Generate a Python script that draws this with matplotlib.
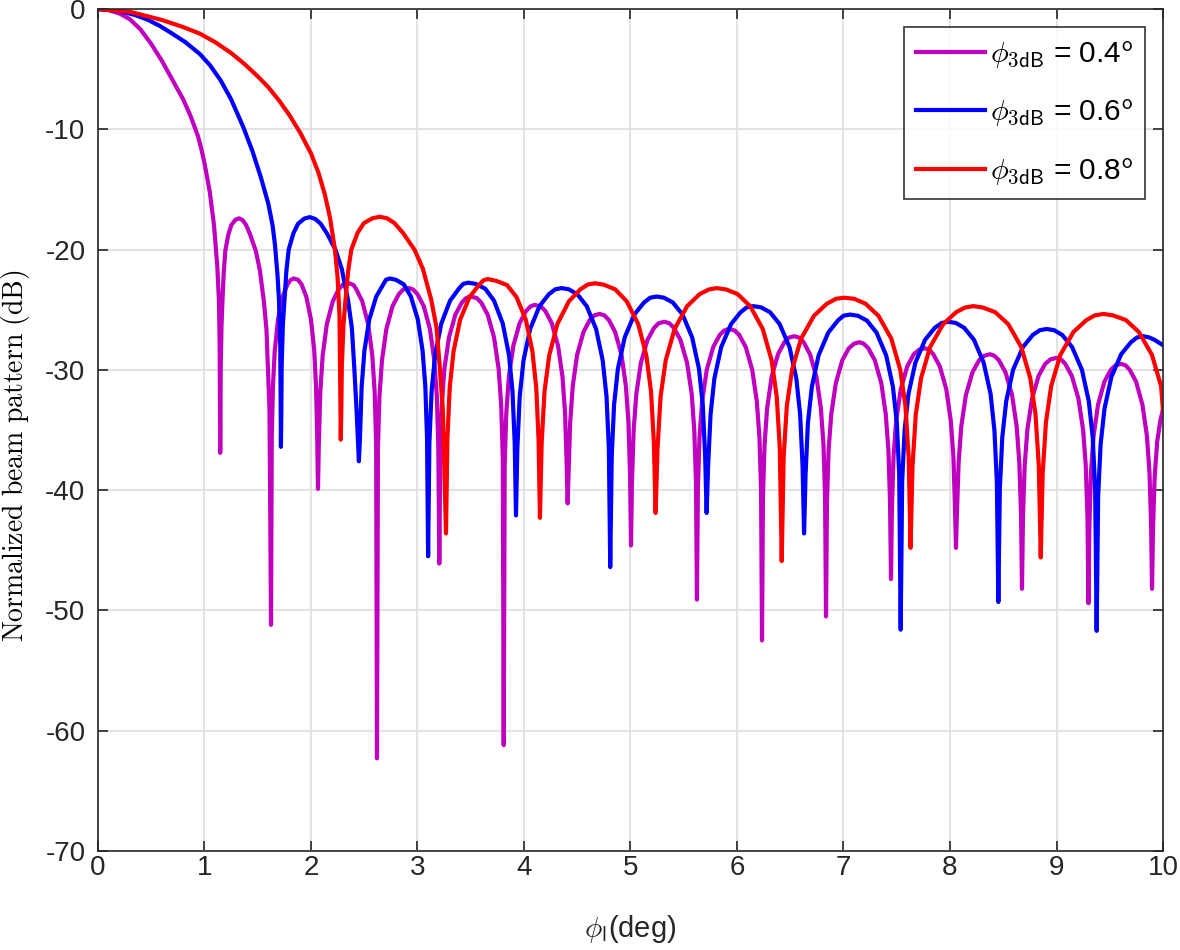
import matplotlib
matplotlib.use("Agg")
import matplotlib.pyplot as plt

plt.rcParams['font.family'] = ['Liberation Sans', 'DejaVu Sans']
plt.rcParams['mathtext.fontset'] = 'cm'
plt.rcParams['axes.unicode_minus'] = False

# beam pattern curves (phi in deg, pattern in dB)
mag_x = [0, 0.1, 0.2, 0.3, 0.4, 0.5, 0.6, 0.7, 0.8, 0.87, 0.94, 0.97, 1.0, 1.05, 1.09, 1.12, 1.136, 1.143, 1.148,
         1.150, 1.153, 1.160, 1.169, 1.181, 1.196, 1.224, 1.253, 1.291, 1.325, 1.358, 1.391, 1.429, 1.482, 1.520, 1.558, 1.582, 1.596, 1.611, 1.625,
         1.632, 1.643, 1.660, 1.691, 1.735, 1.779, 1.810, 1.840, 1.881, 1.912, 1.956, 2.000, 2.031, 2.048, 2.059, 2.066,
         2.074, 2.088, 2.110, 2.149, 2.205, 2.260, 2.299, 2.360, 2.400, 2.426, 2.482, 2.537, 2.576, 2.598, 2.612, 2.620,
         2.629, 2.643, 2.667, 2.708, 2.766, 2.825, 2.866, 2.920, 2.959, 3.000, 3.059, 3.117, 3.158, 3.182, 3.196, 3.205,
         3.214, 3.229, 3.253, 3.296, 3.356, 3.417, 3.459, 3.490, 3.556, 3.598, 3.659, 3.719, 3.762, 3.786, 3.801, 3.810,
         3.819, 3.834, 3.858, 3.900, 3.960, 4.020, 4.062, 4.100, 4.158, 4.200, 4.260, 4.320, 4.362, 4.386, 4.401, 4.410,
         4.419, 4.434, 4.458, 4.499, 4.559, 4.618, 4.660, 4.710, 4.755, 4.797, 4.856, 4.916, 4.957, 4.981, 4.996, 5.005,
         5.014, 5.030, 5.055, 5.098, 5.160, 5.222, 5.265, 5.317, 5.364, 5.407, 5.469, 5.531, 5.575, 5.599, 5.615, 5.624,
         5.633, 5.648, 5.673, 5.716, 5.777, 5.838, 5.881, 5.925, 5.978, 6.021, 6.082, 6.143, 6.186, 6.211, 6.226, 6.235,
         6.244, 6.259, 6.283, 6.325, 6.385, 6.445, 6.487, 6.538, 6.584, 6.626, 6.686, 6.746, 6.788, 6.812, 6.827, 6.836,
         6.845, 6.860, 6.885, 6.928, 6.989, 7.050, 7.100, 7.150, 7.190, 7.233, 7.294, 7.355, 7.397, 7.422, 7.437, 7.446,
         7.455, 7.470, 7.495, 7.538, 7.599, 7.660, 7.712, 7.765, 7.805, 7.843, 7.904, 7.965, 8.007, 8.032, 8.047, 8.056,
         8.065, 8.081, 8.106, 8.149, 8.211, 8.273, 8.322, 8.376, 8.416, 8.459, 8.521, 8.583, 8.626, 8.651, 8.667, 8.676,
         8.685, 8.701, 8.726, 8.770, 8.832, 8.894, 8.945, 9.000, 9.042, 9.082, 9.144, 9.206, 9.250, 9.275, 9.291, 9.300,
         9.309, 9.324, 9.348, 9.390, 9.449, 9.509, 9.555, 9.606, 9.648, 9.688, 9.748, 9.807, 9.849, 9.873, 9.888, 9.897,
         9.906, 9.921, 9.945, 9.975, 10.0]
mag_y = [0, -0.09, -0.36, -0.85, -1.7, -2.9, -4.3, -5.9, -7.5, -8.9, -10.6, -11.6, -12.8, -15.2, -18.0, -21.3, -24.2, -28.0, -36.9,
         -33.4, -29.8, -26.4, -24.3, -21.9, -20.1, -18.75, -17.95, -17.52, -17.4, -17.55, -17.95, -18.75, -20.1, -21.7, -24.3, -26.6, -29.8, -33.4, -51.2,
         -35.7, -31.4, -28.4, -25.8, -23.9, -22.9, -22.52, -22.4, -22.52, -22.9, -23.9, -25.8, -28.4, -31.4, -35.7, -39.9,
         -36.1, -31.8, -28.8, -26.2, -24.3, -23.3, -22.92, -22.8, -22.95, -23.3, -24.3, -26.2, -28.8, -31.8, -36.1, -62.3,
         -36.5, -32.2, -29.2, -26.6, -24.7, -23.7, -23.32, -23.2, -23.32, -23.7, -24.7, -26.6, -29.2, -32.2, -36.5, -46.1,
         -37.2, -32.9, -29.9, -27.3, -25.4, -24.4, -24.02, -23.9, -24.02, -24.4, -25.4, -27.3, -29.9, -32.9, -37.2, -61.2,
         -37.9, -33.6, -30.6, -28.0, -26.1, -25.1, -24.72, -24.6, -24.72, -25.1, -26.1, -28.0, -30.6, -33.6, -37.9, -41.1,
         -38.65, -34.35, -31.35, -28.75, -26.85, -25.85, -25.47, -25.35, -25.47, -25.85, -26.85, -28.75, -31.35, -34.35, -38.65, -44.6,
         -39.3, -35.0, -32.0, -29.4, -27.5, -26.5, -26.12, -26.0, -26.12, -26.5, -27.5, -29.4, -32.0, -35.0, -39.3, -49.1,
         -39.9, -35.6, -32.6, -30.0, -28.1, -27.1, -26.72, -26.6, -26.72, -27.1, -28.1, -30.0, -32.6, -35.6, -39.9, -52.5,
         -40.5, -36.2, -33.2, -30.6, -28.7, -27.7, -27.32, -27.2, -27.32, -27.7, -28.7, -30.6, -33.2, -36.2, -40.5, -50.5,
         -41.0, -36.7, -33.7, -31.1, -29.2, -28.2, -27.82, -27.7, -27.82, -28.2, -29.2, -31.1, -33.7, -36.7, -41.0, -47.4,
         -41.5, -37.2, -34.2, -31.6, -29.7, -28.7, -28.32, -28.2, -28.32, -28.7, -29.7, -31.6, -34.2, -37.2, -41.5, -44.8,
         -42.0, -37.7, -34.7, -32.1, -30.2, -29.2, -28.82, -28.7, -28.82, -29.2, -30.2, -32.1, -34.7, -37.7, -42.0, -48.2,
         -42.3, -38.0, -35.0, -32.4, -30.5, -29.5, -29.12, -29.0, -29.12, -29.5, -30.5, -32.4, -35.0, -38.0, -42.3, -49.4,
         -42.8, -38.5, -35.5, -32.9, -31.0, -30.0, -29.62, -29.5, -29.62, -30.0, -31.0, -32.9, -35.5, -38.5, -42.8, -48.2,
         -43.3, -39.0, -36.0, -34.2, -33.3]

blue_x = [0, 0.2, 0.35, 0.47, 0.58, 0.69, 0.82, 0.958, 1.05, 1.15, 1.25, 1.364, 1.45, 1.53, 1.6, 1.64, 1.662, 1.685, 1.70, 1.712, 1.718,
          1.722, 1.725, 1.736, 1.751, 1.769, 1.791, 1.835, 1.879, 1.938, 1.989, 2.040, 2.091, 2.150, 2.230, 2.289, 2.348, 2.384, 2.406, 2.428, 2.450,
          2.460, 2.476, 2.502, 2.548, 2.613, 2.678, 2.705, 2.742, 2.800, 2.873, 2.938, 3.003, 3.048, 3.074, 3.090, 3.100,
          3.112, 3.133, 3.166, 3.224, 3.306, 3.389, 3.430, 3.477, 3.545, 3.636, 3.719, 3.801, 3.859, 3.892, 3.913, 3.925,
          3.938, 3.960, 3.996, 4.058, 4.146, 4.235, 4.295, 4.354, 4.420, 4.500, 4.589, 4.677, 4.739, 4.775, 4.797, 4.810,
          4.824, 4.846, 4.882, 4.946, 5.036, 5.127, 5.185, 5.245, 5.315, 5.398, 5.489, 5.579, 5.643, 5.679, 5.701, 5.715,
          5.729, 5.752, 5.788, 5.852, 5.944, 6.035, 6.092, 6.153, 6.225, 6.310, 6.401, 6.493, 6.557, 6.593, 6.616, 6.630,
          6.644, 6.666, 6.703, 6.766, 6.857, 6.947, 7.000, 7.060, 7.135, 7.220, 7.310, 7.401, 7.464, 7.501, 7.523, 7.537,
          7.551, 7.574, 7.610, 7.675, 7.766, 7.858, 7.922, 7.984, 8.055, 8.133, 8.225, 8.316, 8.381, 8.417, 8.440, 8.454,
          8.468, 8.491, 8.528, 8.592, 8.685, 8.777, 8.843, 8.908, 8.978, 9.054, 9.146, 9.239, 9.303, 9.340, 9.363, 9.377,
          9.391, 9.414, 9.451, 9.515, 9.607, 9.699, 9.757, 9.815, 9.870, 9.920, 10.0]
blue_y = [0, -0.16, -0.5, -0.9, -1.4, -2.0, -2.75, -3.75, -4.65, -5.9, -7.5, -9.8, -11.8, -14.0, -16.2, -18.0, -19.6, -22.0, -24.2, -28.0, -36.4,
          -33.3, -29.7, -26.3, -24.2, -21.8, -20.0, -18.65, -17.85, -17.42, -17.3, -17.45, -17.85, -18.65, -20.0, -21.6, -24.2, -26.5, -29.7, -33.3, -37.6,
          -35.7, -31.4, -28.4, -25.8, -23.9, -22.9, -22.5, -22.4, -22.52, -22.9, -23.9, -25.8, -28.4, -31.4, -35.7, -45.5,
          -36.05, -31.75, -28.75, -26.15, -24.25, -23.25, -22.85, -22.75, -22.85, -23.25, -24.25, -26.15, -28.75, -31.75, -36.05, -42.1,
          -36.5, -32.2, -29.2, -26.6, -24.7, -23.7, -23.3, -23.2, -23.3, -23.7, -24.7, -26.6, -29.2, -32.2, -36.5, -46.4,
          -37.2, -32.9, -29.9, -27.3, -25.4, -24.4, -24.0, -23.9, -24.0, -24.4, -25.4, -27.3, -29.9, -32.9, -37.2, -41.9,
          -38.0, -33.7, -30.7, -28.1, -26.2, -25.2, -24.8, -24.7, -24.8, -25.2, -26.2, -28.1, -30.7, -33.7, -38.0, -43.6,
          -38.7, -34.4, -31.4, -28.8, -26.9, -25.9, -25.5, -25.4, -25.5, -25.9, -26.9, -28.8, -31.4, -34.4, -38.7, -51.6,
          -39.3, -35.0, -32.0, -29.4, -27.5, -26.5, -26.1, -26.0, -26.1, -26.5, -27.5, -29.4, -32.0, -35.0, -39.3, -49.3,
          -39.9, -35.6, -32.6, -30.0, -28.1, -27.1, -26.7, -26.6, -26.7, -27.1, -28.1, -30.0, -32.6, -35.6, -39.9, -51.7,
          -40.5, -36.2, -33.2, -30.6, -28.7, -27.7, -27.3, -27.2, -27.3, -27.5, -27.95]

red_x = [0, 0.3, 0.6, 0.8, 0.958, 1.1, 1.25, 1.38, 1.5, 1.6, 1.7, 1.8, 1.9, 2.0, 2.07, 2.13, 2.18, 2.225, 2.25, 2.268, 2.28,
         2.285, 2.290, 2.305, 2.324, 2.349, 2.379, 2.438, 2.497, 2.576, 2.646, 2.715, 2.784, 2.863, 2.972, 3.051, 3.130, 3.179, 3.209, 3.238, 3.268,
         3.281, 3.303, 3.339, 3.400, 3.489, 3.577, 3.620, 3.659, 3.740, 3.841, 3.930, 4.018, 4.079, 4.115, 4.137, 4.150,
         4.166, 4.193, 4.237, 4.313, 4.422, 4.530, 4.600, 4.667, 4.750, 4.856, 4.965, 5.073, 5.149, 5.193, 5.220, 5.236,
         5.254, 5.283, 5.331, 5.414, 5.532, 5.650, 5.735, 5.810, 5.900, 6.006, 6.124, 6.242, 6.325, 6.373, 6.402, 6.420,
         6.438, 6.468, 6.517, 6.602, 6.723, 6.844, 6.930, 7.008, 7.100, 7.207, 7.328, 7.449, 7.533, 7.582, 7.612, 7.630,
         7.648, 7.679, 7.728, 7.813, 7.936, 8.058, 8.140, 8.219, 8.310, 8.424, 8.547, 8.669, 8.754, 8.803, 8.834, 8.852,
         8.870, 8.901, 8.950, 9.036, 9.159, 9.282, 9.360, 9.440, 9.530, 9.650, 9.773, 9.896, 9.982, 10.0]
red_y = [0, -0.23, -0.91, -1.5, -2.05, -2.75, -3.65, -4.6, -5.6, -6.5, -7.6, -8.85, -10.3, -12.0, -13.6, -15.4, -17.4, -20.0, -22.3, -25.5, -35.8,
         -33.3, -29.7, -26.3, -24.2, -21.8, -20.0, -18.6, -17.8, -17.4, -17.27, -17.4, -17.8, -18.6, -20.0, -21.6, -24.2, -26.5, -29.7, -33.3, -43.6,
         -35.75, -31.45, -28.45, -25.85, -23.95, -22.95, -22.55, -22.45, -22.6, -22.95, -23.95, -25.85, -28.45, -31.45, -35.75, -42.3,
         -36.1, -31.8, -28.8, -26.2, -24.3, -23.3, -22.9, -22.8, -22.92, -23.3, -24.3, -26.2, -28.8, -31.8, -36.1, -41.9,
         -36.5, -32.2, -29.2, -26.6, -24.7, -23.7, -23.32, -23.2, -23.32, -23.7, -24.7, -26.6, -29.2, -32.2, -36.5, -45.9,
         -37.3, -33.0, -30.0, -27.4, -25.5, -24.5, -24.09, -24.0, -24.09, -24.5, -25.5, -27.4, -30.0, -33.0, -37.3, -44.8,
         -38.0, -33.7, -30.7, -28.1, -26.2, -25.2, -24.82, -24.7, -24.82, -25.2, -26.2, -28.1, -30.7, -33.7, -38.0, -45.6,
         -38.65, -34.35, -31.35, -28.75, -26.85, -25.85, -25.47, -25.35, -25.47, -25.85, -26.85, -28.75, -31.35, -33.4]

labels = [r'$\phi_{\mathsf{3dB}}$ = 0.4$^{\mathsf{o}}$',
          r'$\phi_{\mathsf{3dB}}$ = 0.6$^{\mathsf{o}}$',
          r'$\phi_{\mathsf{3dB}}$ = 0.8$^{\mathsf{o}}$']
colors = ['#BF00BF', '#0000FF', '#FF0000']

fig = plt.figure(figsize=(11.8, 9.5), dpi=100)
ax = fig.add_axes([0.083, 0.1042, 0.9026, 0.8863])

ax.plot(mag_x, mag_y, color=colors[0], lw=3, label=labels[0])
ax.plot(blue_x, blue_y, color=colors[1], lw=3, label=labels[1])
ax.plot(red_x, red_y, color=colors[2], lw=3, label=labels[2])

ax.set_xlim(0, 10)
ax.set_ylim(-70, 0)
ax.set_xticks(range(0, 11))
ax.set_yticks(range(-70, 1, 10))
ax.grid(True, color='#dedede', lw=1.2)
ax.set_axisbelow(True)
ax.tick_params(direction='in', length=7, width=1.2, top=True, right=True,
               labelsize=20, colors='#262626')
ax.tick_params(axis='x', pad=3)
ax.tick_params(axis='y', pad=9)
for s in ax.spines.values():
    s.set_color('#262626')
    s.set_linewidth(1.2)

ax.set_xlabel(r'$\phi_{\mathsf{l}}$(deg)', fontsize=21, color='#262626')
ax.xaxis.set_label_coords(0.5, -0.074)
ax.set_ylabel(r'$\mathrm{Normalized\ beam\ pattern\ (dB)}$', fontsize=20)
ax.yaxis.set_label_coords(-0.062, 0.47)

leg = ax.legend(loc='upper right', fontsize=21.5, frameon=True, fancybox=False,
                edgecolor='black', handlelength=2.3, handletextpad=0.15,
                borderaxespad=0.6, labelspacing=0.9, borderpad=0.4)
leg.get_frame().set_linewidth(1.2)

fig.savefig('out.png', dpi=100)
